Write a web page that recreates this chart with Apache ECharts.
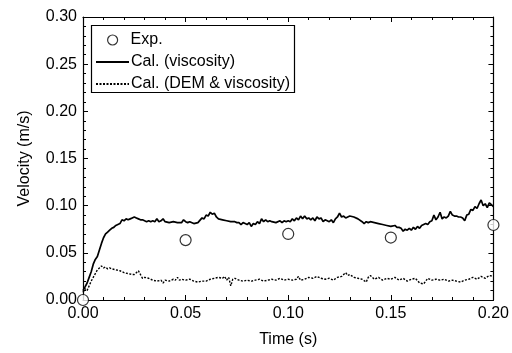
<!DOCTYPE html>
<html><head><meta charset="utf-8">
<script src="https://cdn.jsdelivr.net/npm/echarts@6/dist/echarts.min.js"></script>
<style>html,body{margin:0;padding:0;background:#fff}#c{width:512px;height:353px}</style>
</head><body><div id="c"></div>
<script>
const xTicks = ['0.00','0.05','0.10','0.15','0.20'];
const yTicks = ['0.00','0.05','0.10','0.15','0.20','0.25','0.30'];
const expData = [[0.000,0.000],[0.050,0.0635],[0.100,0.0700],[0.150,0.0662],[0.200,0.0795]];
const viscData = [
[0.000,0.010],[0.001,0.014],[0.002,0.018],[0.003,0.024],[0.004,0.030],[0.005,0.038],[0.006,0.043],[0.007,0.046],[0.008,0.053],[0.009,0.060],
[0.010,0.066],[0.011,0.070],[0.012,0.072],[0.013,0.074],[0.014,0.076],[0.015,0.077],[0.016,0.079],[0.017,0.080],[0.018,0.081],[0.019,0.085],
[0.020,0.084],[0.021,0.086],[0.022,0.085],[0.023,0.086],[0.024,0.087],[0.025,0.088],[0.026,0.087],[0.027,0.086],[0.028,0.085],[0.029,0.085],
[0.030,0.084],[0.031,0.083],[0.032,0.084],[0.033,0.083],[0.034,0.084],[0.035,0.083],[0.036,0.086],[0.037,0.083],[0.038,0.084],[0.039,0.086],
[0.040,0.083],[0.042,0.082],[0.044,0.083],[0.046,0.082],[0.048,0.082],[0.049,0.085],[0.050,0.083],[0.051,0.082],[0.052,0.083],[0.054,0.081],
[0.056,0.082],[0.058,0.087],[0.059,0.086],[0.060,0.090],[0.061,0.089],[0.062,0.093],[0.063,0.091],[0.064,0.092],[0.065,0.088],[0.066,0.086],
[0.068,0.085],[0.070,0.084],[0.072,0.083],[0.074,0.083],[0.075,0.082],[0.076,0.082],[0.077,0.080],[0.078,0.082],[0.079,0.081],[0.080,0.080],
[0.081,0.082],[0.082,0.078],[0.083,0.081],[0.084,0.080],[0.085,0.083],[0.086,0.081],[0.087,0.086],[0.088,0.083],[0.089,0.085],[0.090,0.083],
[0.091,0.084],[0.092,0.083],[0.094,0.082],[0.096,0.084],[0.097,0.082],[0.098,0.084],[0.099,0.083],[0.100,0.084],[0.101,0.083],[0.102,0.086],
[0.103,0.084],[0.104,0.087],[0.105,0.085],[0.106,0.089],[0.107,0.086],[0.108,0.089],[0.109,0.086],[0.110,0.087],[0.111,0.085],[0.112,0.087],
[0.113,0.084],[0.114,0.088],[0.115,0.086],[0.116,0.087],[0.117,0.083],[0.118,0.085],[0.119,0.084],[0.120,0.083],[0.121,0.085],[0.122,0.082],
[0.123,0.086],[0.124,0.088],[0.125,0.092],[0.126,0.088],[0.127,0.089],[0.128,0.087],[0.129,0.088],[0.130,0.089],[0.132,0.088],[0.134,0.086],
[0.136,0.083],[0.137,0.081],[0.138,0.083],[0.139,0.082],[0.140,0.083],[0.142,0.082],[0.144,0.081],[0.146,0.080],[0.148,0.079],[0.150,0.078],
[0.152,0.079],[0.153,0.077],[0.154,0.077],[0.155,0.076],[0.156,0.073],[0.157,0.075],[0.158,0.074],[0.159,0.076],[0.160,0.074],[0.161,0.077],
[0.162,0.075],[0.163,0.078],[0.164,0.076],[0.165,0.079],[0.166,0.080],[0.167,0.081],[0.168,0.080],[0.169,0.083],[0.170,0.084],[0.171,0.090],
[0.172,0.085],[0.173,0.088],[0.174,0.093],[0.175,0.086],[0.176,0.088],[0.177,0.087],[0.178,0.089],[0.179,0.094],[0.180,0.090],[0.181,0.089],
[0.182,0.089],[0.183,0.088],[0.184,0.088],[0.185,0.087],[0.186,0.084],[0.187,0.090],[0.188,0.091],[0.189,0.096],[0.190,0.095],[0.191,0.099],
[0.192,0.097],[0.193,0.102],[0.194,0.106],[0.195,0.100],[0.196,0.102],[0.197,0.098],[0.198,0.103],[0.199,0.101],[0.200,0.099]
];
const demData = [
[0.000,0.008],[0.001,0.012],[0.002,0.010],[0.003,0.015],[0.004,0.020],[0.005,0.024],[0.006,0.028],[0.007,0.032],[0.008,0.034],[0.009,0.036],
[0.010,0.034],[0.011,0.035],[0.012,0.033],[0.013,0.034],[0.014,0.033],[0.016,0.032],[0.018,0.031],[0.020,0.029],[0.022,0.028],[0.024,0.027],
[0.025,0.027],[0.026,0.029],[0.027,0.031],[0.028,0.027],[0.029,0.023],[0.030,0.024],[0.032,0.023],[0.034,0.021],[0.036,0.020],[0.038,0.021],
[0.039,0.018],[0.040,0.021],[0.042,0.020],[0.044,0.022],[0.045,0.021],[0.046,0.024],[0.047,0.021],[0.048,0.022],[0.050,0.021],[0.052,0.022],
[0.054,0.020],[0.056,0.019],[0.058,0.020],[0.060,0.020],[0.062,0.022],[0.064,0.023],[0.066,0.024],[0.068,0.023],[0.069,0.025],[0.070,0.021],
[0.071,0.024],[0.072,0.015],[0.073,0.022],[0.074,0.023],[0.076,0.021],[0.078,0.020],[0.080,0.021],[0.082,0.020],[0.084,0.021],[0.086,0.022],
[0.088,0.020],[0.090,0.021],[0.092,0.022],[0.094,0.021],[0.096,0.023],[0.098,0.021],[0.100,0.022],[0.102,0.021],[0.104,0.022],[0.105,0.025],
[0.106,0.021],[0.108,0.022],[0.110,0.024],[0.112,0.023],[0.114,0.025],[0.116,0.023],[0.118,0.022],[0.120,0.023],[0.122,0.021],[0.124,0.024],
[0.126,0.025],[0.128,0.029],[0.129,0.026],[0.130,0.027],[0.132,0.024],[0.134,0.023],[0.136,0.022],[0.138,0.019],[0.139,0.024],[0.140,0.026],
[0.142,0.022],[0.144,0.024],[0.146,0.021],[0.148,0.023],[0.150,0.022],[0.152,0.024],[0.154,0.021],[0.156,0.023],[0.158,0.020],[0.160,0.022],
[0.162,0.023],[0.164,0.018],[0.166,0.017],[0.168,0.023],[0.170,0.021],[0.172,0.022],[0.174,0.021],[0.176,0.022],[0.178,0.020],[0.180,0.021],
[0.182,0.020],[0.184,0.019],[0.186,0.021],[0.188,0.022],[0.190,0.024],[0.192,0.022],[0.194,0.025],[0.196,0.023],[0.198,0.026],[0.200,0.025]
];
const seriesNames = ['Exp.','Cal. (viscosity)','Cal. (DEM & viscosity)'];

const FONT = 'Liberation Sans, Arial, sans-serif';
const chart = echarts.init(document.getElementById('c'), null, {renderer:'canvas'});
const axisCommon = {
  axisLine:{show:true,onZero:false,lineStyle:{color:'#000',width:1.2}},
  axisTick:{show:true,inside:true,length:5,lineStyle:{color:'#000',width:1}},
  minorTick:{show:true,splitNumber:5,length:3,lineStyle:{color:'#000',width:1}},
  splitLine:{show:false}
};
chart.setOption({
  backgroundColor:'#fff',
  animation:false,
  grid:{left:83,right:18,top:17,bottom:52},
  xAxis:[
    Object.assign({type:'value',min:0,max:0.2,interval:0.05,position:'bottom',
      name:'Time (s)',nameLocation:'middle',nameGap:32,
      nameTextStyle:{fontFamily:FONT,fontSize:16,color:'#000'},
      axisLabel:{fontFamily:FONT,fontSize:16,color:'#000',margin:6,formatter:(v)=>xTicks[Math.round(v/0.05)]}},axisCommon),
    Object.assign({type:'value',min:0,max:0.2,interval:0.05,position:'top',axisLabel:{show:false}},axisCommon)
  ],
  yAxis:[
    Object.assign({type:'value',min:0,max:0.3,interval:0.05,position:'left',
      name:'Velocity (m/s)',nameLocation:'middle',nameGap:50,
      nameTextStyle:{fontFamily:FONT,fontSize:16,color:'#000'},
      axisLabel:{fontFamily:FONT,fontSize:16,color:'#000',margin:6,formatter:(v)=>yTicks[Math.round(v/0.05)]}},axisCommon),
    Object.assign({type:'value',min:0,max:0.3,interval:0.05,position:'right',axisLabel:{show:false}},axisCommon)
  ],
  legend:[
    {data:[seriesNames[0]],orient:'vertical',left:107,top:32,itemWidth:10,itemHeight:10,
     icon:'circle',itemStyle:{color:'#fff',borderColor:'#000',borderWidth:1.2},
     textStyle:{fontFamily:FONT,fontSize:16,color:'#000',padding:[0,0,0,8]},padding:0},
    {data:[seriesNames[1],seriesNames[2]],orient:'vertical',left:95,top:54,itemWidth:33,itemHeight:10,itemGap:6,
     itemStyle:{color:'rgba(0,0,0,0)',borderWidth:0,opacity:0},
     textStyle:{fontFamily:FONT,fontSize:16,color:'#000',padding:[0,0,0,-3]},padding:0}
  ],
  graphic:[{type:'rect',left:89,top:23,shape:{width:203,height:67},style:{fill:'none',stroke:'#000',lineWidth:1.2},z:100}],
  series:[
    {name:seriesNames[1],type:'line',data:viscData,symbol:'none',showSymbol:false,
     lineStyle:{color:'#000',width:1.7,type:'solid'},itemStyle:{color:'#000'},z:2},
    {name:seriesNames[2],type:'line',data:demData,symbol:'none',showSymbol:false,
     lineStyle:{color:'#000',width:1.4,type:[2,1.5]},itemStyle:{color:'#000'},z:2},
    {name:seriesNames[0],type:'scatter',data:expData,symbol:'circle',symbolSize:11,clip:false,
     itemStyle:{color:'#fff',borderColor:'#000',borderWidth:1.2},z:5}
  ]
});
</script></body></html>
